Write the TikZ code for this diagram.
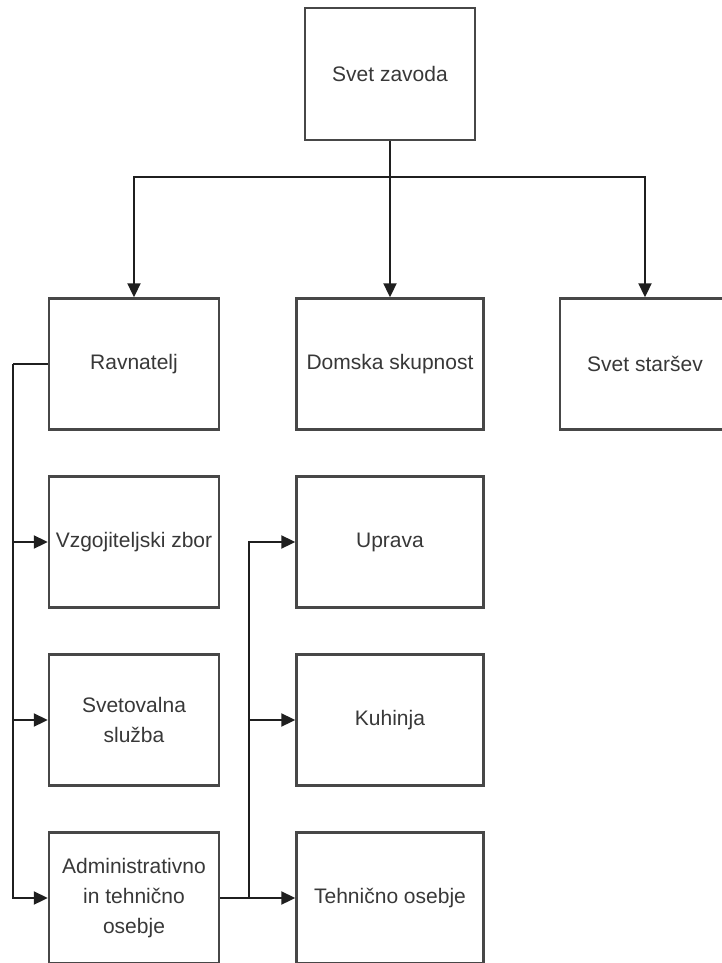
\documentclass[tikz,border=0pt]{standalone}
\usepackage{fontspec}
\setmainfont{Liberation Sans}
\usetikzlibrary{arrows.meta}
\begin{document}
\begin{tikzpicture}[x=1pt,y=-1pt,
  unit/.style={draw=black!72, line width=2.4pt, fill=white, text=black!78,
    minimum width=170pt, minimum height=131pt, inner sep=2pt, align=center,
    font=\fontsize{21}{30}\selectfont},
  wide/.style={unit, minimum width=187pt},
  link/.style={draw=black!88, line width=2pt},
  arr/.style={link, -{Triangle[length=14pt,width=13pt]}}]
  \useasboundingbox (0,0) rectangle (722,963);
  \clip (0,0) rectangle (722,963);
  % top of the hierarchy
  \node[unit, minimum height=132pt] (sz) at (390,74) {Svet zavoda};
  % second level
  \node[unit] (rav) at (134,364) {Ravnatelj};
  \node[wide] (dom) at (390,364) {Domska skupnost};
  \node[unit] (ss) at (645,364) {Svet staršev};
  % services under the director
  \node[unit] (vz) at (134,542) {Vzgojiteljski zbor};
  \node[unit] (sv) at (134,720) {Svetovalna\\služba};
  \node[unit] (adm) at (134,898) {Administrativno\\in tehnično\\osebje};
  % staff groups
  \node[wide] (upr) at (390,542) {Uprava};
  \node[wide] (kuh) at (390,720) {Kuhinja};
  \node[wide] (teh) at (390,898) {Tehnično osebje};
  % distribution from the council
  \coordinate (bus) at (390,177);
  \draw[link] (sz.south) -- (bus);
  \draw[arr] (bus) -| (rav.north);
  \draw[arr] (bus) -- (dom.north);
  \draw[arr] (bus) -| (ss.north);
  % director's branch
  \coordinate (lbus) at (13,364);
  \draw[link] (rav.west) -- (lbus);
  \draw[arr] (lbus) |- (vz.west);
  \draw[arr] (lbus) |- (sv.west);
  \draw[arr] (lbus) |- (adm.west);
  % administrative and technical staff branch
  \draw[arr] (adm.east) -- (teh.west);
  \coordinate (rbus) at (249,898);
  \draw[arr] (rbus) |- (upr.west);
  \draw[arr] (rbus) |- (kuh.west);
\end{tikzpicture}
\end{document}
